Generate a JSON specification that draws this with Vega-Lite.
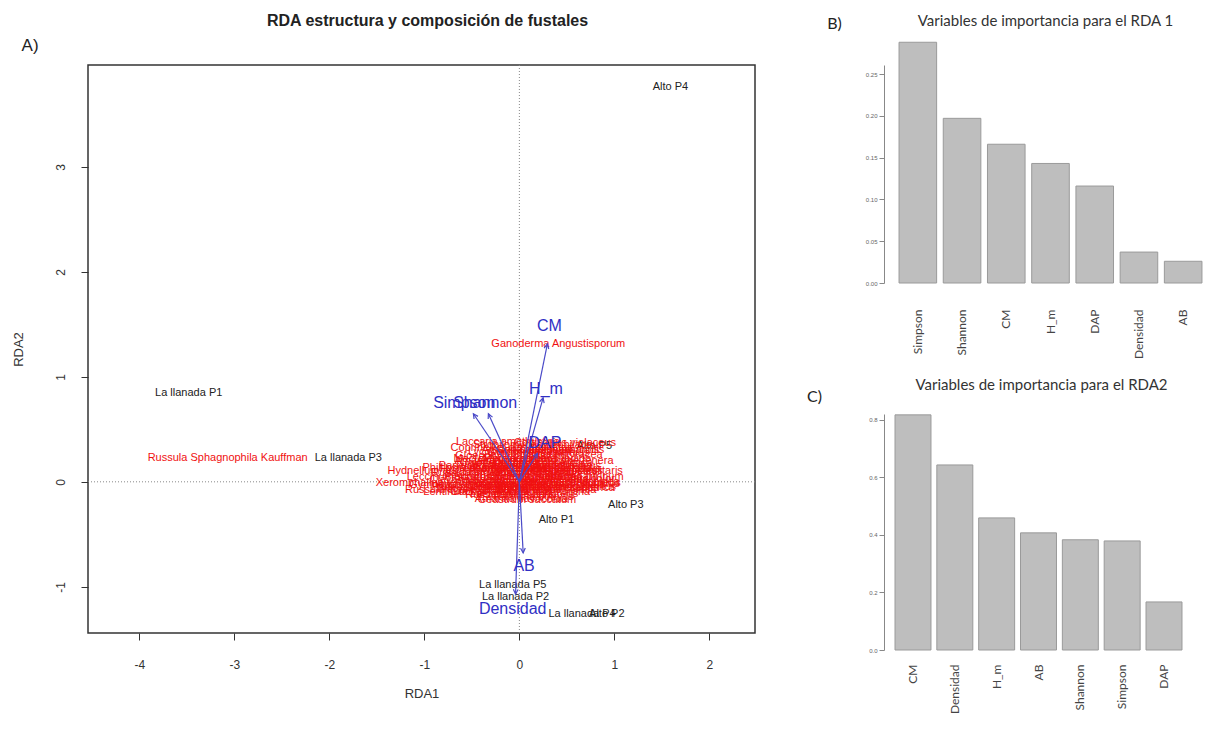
{
  "$schema": "https://vega.github.io/schema/vega-lite/v6.json",
  "padding": {"left": 11, "top": 12, "right": 0, "bottom": 0},
  "background": "white",
  "config": {"font": "Liberation Sans", "view": {"stroke": null}},
  "spacing": 49,
  "datasets": {
    "sites": [
      {"site": "Alto P4", "x": 1.59, "y": 3.76},
      {"site": "La llanada P1", "x": -3.48, "y": 0.85},
      {"site": "La llanada P3", "x": -1.8, "y": 0.23},
      {"site": "Alto P5", "x": 0.79, "y": 0.34},
      {"site": "Alto P3", "x": 1.12, "y": -0.22},
      {"site": "Alto P1", "x": 0.39, "y": -0.36},
      {"site": "La llanada P5", "x": -0.07, "y": -0.98},
      {"site": "La llanada P2", "x": -0.04, "y": -1.1},
      {"site": "La llanada P4", "x": 0.66, "y": -1.26},
      {"site": "Alto P2", "x": 0.92, "y": -1.26}
    ],
    "species": [
      {"sp": "Ganoderma Angustisporum", "x": 0.41, "y": 1.31},
      {"sp": "Russula Sphagnophila Kauffman", "x": -3.07, "y": 0.23},
      {"sp": "Hydnellum aurantiacum", "x": -0.78, "y": 0.1},
      {"sp": "Xeromphalina tenuipes", "x": -0.92, "y": -0.01},
      {"sp": "Laccaria amethystina", "x": -0.12, "y": 0.38},
      {"sp": "Cortinarius violaceus", "x": 0.48, "y": 0.37},
      {"sp": "Amanita flavoconia", "x": 0.02, "y": -0.16},
      {"sp": "Mycena pura", "x": -0.05, "y": 0.22},
      {"sp": "Lactarius indigo", "x": 0.35, "y": 0.22},
      {"sp": "Boletus edulis", "x": 0.5, "y": 0.12},
      {"sp": "Russula emetica", "x": -0.5, "y": 0.08},
      {"sp": "Trametes versicolor", "x": 0.5, "y": 0.03},
      {"sp": "Stereum ostrea", "x": -0.25, "y": 0.0},
      {"sp": "Marasmius haematocephalus", "x": 0.3, "y": -0.02},
      {"sp": "Gymnopus dryophilus", "x": -0.6, "y": -0.03},
      {"sp": "Clavulina cristata", "x": 0.2, "y": 0.08},
      {"sp": "Ramaria stricta", "x": -0.1, "y": 0.12},
      {"sp": "Suillus luteus", "x": 0.1, "y": -0.08},
      {"sp": "Inocybe geophylla", "x": -0.4, "y": -0.07},
      {"sp": "Hygrocybe conica", "x": 0.35, "y": -0.08},
      {"sp": "Cantharellus cibarius", "x": 0.3, "y": 0.3},
      {"sp": "Lycoperdon perlatum", "x": 0.0, "y": 0.28},
      {"sp": "Pycnoporus sanguineus", "x": 0.45, "y": -0.01},
      {"sp": "Schizophyllum commune", "x": -0.05, "y": 0.05},
      {"sp": "Xylaria polymorpha", "x": 0.25, "y": -0.1},
      {"sp": "Cookeina tricholoma", "x": -0.2, "y": -0.1},
      {"sp": "Favolus tenuiculus", "x": 0.4, "y": 0.1},
      {"sp": "Phillipsia domingensis", "x": -0.45, "y": 0.13},
      {"sp": "Entoloma incanum", "x": 0.05, "y": 0.2},
      {"sp": "Collybia butyracea", "x": 0.4, "y": 0.26},
      {"sp": "Clitocybe gibba", "x": -0.15, "y": -0.05},
      {"sp": "Psathyrella candolleana", "x": 0.15, "y": 0.15},
      {"sp": "Coprinellus disseminatus", "x": -0.08, "y": 0.32},
      {"sp": "Tylopilus felleus", "x": 0.45, "y": 0.15},
      {"sp": "Leccinum scabrum", "x": -0.7, "y": 0.05},
      {"sp": "Helvella crispa", "x": 0.35, "y": 0.02},
      {"sp": "Geastrum saccatum", "x": 0.08, "y": -0.17},
      {"sp": "Scleroderma citrinum", "x": 0.55, "y": 0.05},
      {"sp": "Hygrophorus eburneus", "x": -0.25, "y": 0.12},
      {"sp": "Amanita rubescens", "x": 0.1, "y": 0.3},
      {"sp": "Russula cyanoxantha", "x": -0.65, "y": -0.08},
      {"sp": "Mycena haematopus", "x": 0.3, "y": -0.06},
      {"sp": "Auricularia fuscosuccinea", "x": 0.4, "y": 0.0},
      {"sp": "Pleurotus djamor", "x": -0.35, "y": 0.05},
      {"sp": "Polyporus arcularius", "x": 0.0, "y": 0.1},
      {"sp": "Lentinus crinitus", "x": 0.6, "y": -0.05},
      {"sp": "Gloeophyllum striatum", "x": -0.1, "y": 0.25},
      {"sp": "Crepidotus mollis", "x": 0.45, "y": 0.3},
      {"sp": "Pluteus cervinus", "x": -0.5, "y": -0.05},
      {"sp": "Agaricus campestris", "x": 0.2, "y": 0.0},
      {"sp": "Laetiporus sulphureus", "x": 0.05, "y": -0.12},
      {"sp": "Calocera cornea", "x": -0.2, "y": 0.18},
      {"sp": "Tremella mesenterica", "x": 0.45, "y": -0.06},
      {"sp": "Daldinia concentrica", "x": 0.25, "y": 0.18},
      {"sp": "Amanita virosa", "x": -0.3, "y": 0.2},
      {"sp": "Boletus pallidus", "x": 0.15, "y": 0.05},
      {"sp": "Clavaria fragilis", "x": -0.55, "y": 0.02},
      {"sp": "Conocybe tenera", "x": 0.55, "y": 0.2},
      {"sp": "Gymnopilus junonius", "x": 0.2, "y": 0.27},
      {"sp": "Hypholoma fasciculare", "x": -0.3, "y": -0.03},
      {"sp": "Lactarius piperatus", "x": 0.1, "y": 0.15},
      {"sp": "Lepiota cristata", "x": 0.35, "y": 0.12},
      {"sp": "Macrolepiota procera", "x": -0.15, "y": 0.22},
      {"sp": "Oudemansiella canarii", "x": 0.25, "y": 0.05},
      {"sp": "Panellus stipticus", "x": -0.4, "y": 0.15},
      {"sp": "Phellinus gilvus", "x": 0.5, "y": -0.03},
      {"sp": "Pholiota squarrosa", "x": 0.0, "y": -0.05},
      {"sp": "Ramaria botrytis", "x": 0.15, "y": -0.14},
      {"sp": "Russula virescens", "x": -0.1, "y": -0.13},
      {"sp": "Strobilomyces strobilaceus", "x": 0.2, "y": 0.35},
      {"sp": "Tricholoma saponaceum", "x": -0.05, "y": 0.15},
      {"sp": "Cordyceps militaris", "x": 0.6, "y": 0.1},
      {"sp": "Lentinula boryana", "x": -0.55, "y": -0.1},
      {"sp": "Hericium coralloides", "x": 0.3, "y": 0.1}
    ],
    "vars": [
      {"var": "CM", "x": 0.295, "y": 1.314, "lx": 0.316, "ly": 1.486},
      {"var": "H_m", "x": 0.25, "y": 0.8, "lx": 0.28, "ly": 0.886},
      {"var": "Simpson", "x": -0.484, "y": 0.648, "lx": -0.58, "ly": 0.753},
      {"var": "Shannon", "x": -0.326, "y": 0.648, "lx": -0.36, "ly": 0.753},
      {"var": "DAP", "x": 0.19, "y": 0.27, "lx": 0.27, "ly": 0.37},
      {"var": "AB", "x": 0.04, "y": -0.676, "lx": 0.05, "ly": -0.8},
      {"var": "Densidad", "x": -0.04, "y": -1.07, "lx": -0.07, "ly": -1.21}
    ],
    "panel": [{"label": "A)", "x": -5.15, "y": 4.15}],
    "imp1": [
      {"var": "Simpson", "imp": 0.288},
      {"var": "Shannon", "imp": 0.197},
      {"var": "CM", "imp": 0.166},
      {"var": "H_m", "imp": 0.143},
      {"var": "DAP", "imp": 0.116},
      {"var": "Densidad", "imp": 0.037},
      {"var": "AB", "imp": 0.026}
    ],
    "imp2": [
      {"var": "CM", "imp": 0.817},
      {"var": "Densidad", "imp": 0.643},
      {"var": "H_m", "imp": 0.459},
      {"var": "AB", "imp": 0.407},
      {"var": "Shannon", "imp": 0.383},
      {"var": "Simpson", "imp": 0.379},
      {"var": "DAP", "imp": 0.167}
    ]
  },
  "hconcat": [
    {
      "width": 667,
      "height": 568,
      "view": {"stroke": "#333", "strokeWidth": 1.5},
      "title": {"text": "RDA estructura y composición de fustales", "font": "Liberation Sans", "fontSize": 16, "fontWeight": "bold", "color": "#222", "frame": "group", "offset": 8, "dx": 6},
      "layer": [
        {
          "data": {"name": "sites"},
          "mark": {"type": "text", "fontSize": 11, "color": "#222", "font": "Liberation Sans"},
          "encoding": {
            "x": {"field": "x", "type": "quantitative", "title": "RDA1",
              "scale": {"domain": [-4.54, 2.48], "nice": false, "zero": false},
              "axis": {"values": [-4, -3, -2, -1, 0, 1, 2], "domain": false, "grid": false, "tickSize": 7, "tickColor": "#333", "labelFontSize": 12, "labelColor": "#333", "labelPadding": 19, "labelExpr": "'' + datum.value", "titleFontSize": 13, "titleFontWeight": "normal", "titleColor": "#333", "titlePadding": 17, "labelFont": "Liberation Sans", "titleFont": "Liberation Sans"}},
            "y": {"field": "y", "type": "quantitative", "title": "RDA2",
              "scale": {"domain": [-1.44, 3.97], "nice": false, "zero": false},
              "axis": {"values": [-1, 0, 1, 2, 3], "domain": false, "grid": false, "tickSize": 7, "tickColor": "#333", "labelAngle": -90, "labelAlign": "center", "labelBaseline": "bottom", "labelFontSize": 12, "labelColor": "#333", "labelPadding": 14, "labelExpr": "'' + datum.value", "titleFontSize": 13, "titleFontWeight": "normal", "titleColor": "#333", "titlePadding": 29, "labelFont": "Liberation Sans", "titleFont": "Liberation Sans"}},
            "text": {"field": "site"}
          }
        },
        {
          "data": {"values": [{"v": 0}]},
          "mark": {"type": "rule", "color": "#888", "strokeDash": [1, 2], "strokeWidth": 1},
          "encoding": {"x": {"field": "v", "type": "quantitative", "title": "RDA1"}}
        },
        {
          "data": {"values": [{"v": 0}]},
          "mark": {"type": "rule", "color": "#888", "strokeDash": [1, 2], "strokeWidth": 1},
          "encoding": {"y": {"field": "v", "type": "quantitative", "title": "RDA2"}}
        },
        {
          "data": {"name": "species"},
          "mark": {"type": "text", "fontSize": 11, "color": "#f01010", "font": "Liberation Sans"},
          "encoding": {
            "x": {"field": "x", "type": "quantitative", "title": "RDA1"},
            "y": {"field": "y", "type": "quantitative", "title": "RDA2"},
            "text": {"field": "sp"}
          }
        },
        {
          "data": {"name": "vars"},
          "mark": {"type": "rule", "color": "#4a4ac8", "strokeWidth": 1.2},
          "encoding": {
            "x": {"field": "x", "type": "quantitative", "title": "RDA1"},
            "y": {"field": "y", "type": "quantitative", "title": "RDA2"},
            "x2": {"datum": 0},
            "y2": {"datum": 0}
          }
        },
        {
          "data": {"name": "vars"},
          "transform": [{"calculate": "atan2(datum.x * 95, datum.y * 105) * 180 / PI", "as": "ang"}],
          "mark": {"type": "point", "shape": "M-0.5,1L0,0L0.5,1", "filled": false, "color": "#4a4ac8", "strokeWidth": 1.2, "size": 90, "opacity": 1},
          "encoding": {
            "x": {"field": "x", "type": "quantitative", "title": "RDA1"},
            "y": {"field": "y", "type": "quantitative", "title": "RDA2"},
            "angle": {"field": "ang", "type": "quantitative", "scale": null}
          }
        },
        {
          "data": {"name": "vars"},
          "mark": {"type": "text", "fontSize": 16, "color": "#2f2fc4", "font": "Liberation Sans"},
          "encoding": {
            "x": {"field": "lx", "type": "quantitative", "title": "RDA1"},
            "y": {"field": "ly", "type": "quantitative", "title": "RDA2"},
            "text": {"field": "var"}
          }
        },
        {
          "data": {"name": "panel"},
          "mark": {"type": "text", "fontSize": 17, "color": "#222", "font": "Liberation Sans"},
          "encoding": {
            "x": {"field": "x", "type": "quantitative", "title": "RDA1"},
            "y": {"field": "y", "type": "quantitative", "title": "RDA2"},
            "text": {"field": "label"}
          }
        }
      ]
    },
    {
      "bounds": "flush",
      "spacing": 131,
      "vconcat": [
        {
          "width": 333,
          "height": 218,
          "title": {"text": "Variables de importancia para el RDA 1", "font": "Lato", "fontSize": 15, "fontWeight": "normal", "color": "#333", "frame": "group", "offset": 0, "dy": 14, "dx": -5},
          "data": {"name": "imp1"},
          "mark": {"type": "bar", "color": "#bebebe", "stroke": "#9a9a9a", "strokeWidth": 1},
          "encoding": {
            "x": {"field": "var", "type": "nominal", "sort": null, "title": null,
              "scale": {"paddingInner": 0.15, "paddingOuter": 0.34},
              "axis": {"labelAngle": -90, "labelFont": "Lato", "labelFontSize": 12, "labelColor": "#444", "labelPadding": 26, "ticks": false, "domain": false}},
            "y": {"field": "imp", "type": "quantitative",
              "scale": {"domain": [0, 0.2608], "nice": false},
              "axis": {"values": [0, 0.05, 0.1, 0.15, 0.2, 0.25], "format": ".2f", "grid": false, "labelFontSize": 6, "labelColor": "#666", "tickSize": 5, "tickColor": "#888", "domainColor": "#888", "title": "B)", "titleAngle": 0, "titleX": -50, "titleY": -42, "titleAlign": "center", "titleBaseline": "middle", "titleFont": "Lato", "titleFontSize": 16, "titleFontWeight": "normal", "titleColor": "#222"}}
          }
        },
        {
          "width": 309,
          "height": 236,
          "title": {"text": "Variables de importancia para el RDA2", "font": "Lato", "fontSize": 15, "fontWeight": "normal", "color": "#333", "frame": "group", "offset": 0, "dy": 5, "dx": 3},
          "data": {"name": "imp2"},
          "mark": {"type": "bar", "color": "#bebebe", "stroke": "#9a9a9a", "strokeWidth": 1},
          "encoding": {
            "x": {"field": "var", "type": "nominal", "sort": null, "title": null,
              "scale": {"paddingInner": 0.14, "paddingOuter": 0.263},
              "axis": {"labelAngle": -90, "labelFont": "Lato", "labelFontSize": 12, "labelColor": "#444", "labelPadding": 14, "ticks": false, "domain": false}},
            "y": {"field": "imp", "type": "quantitative",
              "scale": {"domain": [0, 0.82], "nice": false},
              "axis": {"values": [0, 0.2, 0.4, 0.6, 0.8], "format": ".1f", "grid": false, "labelFontSize": 6, "labelColor": "#666", "tickSize": 5, "tickColor": "#888", "domainColor": "#888", "title": "C)", "titleAngle": 0, "titleX": -70, "titleY": -18, "titleAlign": "center", "titleBaseline": "middle", "titleFont": "Lato", "titleFontSize": 16, "titleFontWeight": "normal", "titleColor": "#222"}}
          }
        }
      ]
    }
  ]
}
